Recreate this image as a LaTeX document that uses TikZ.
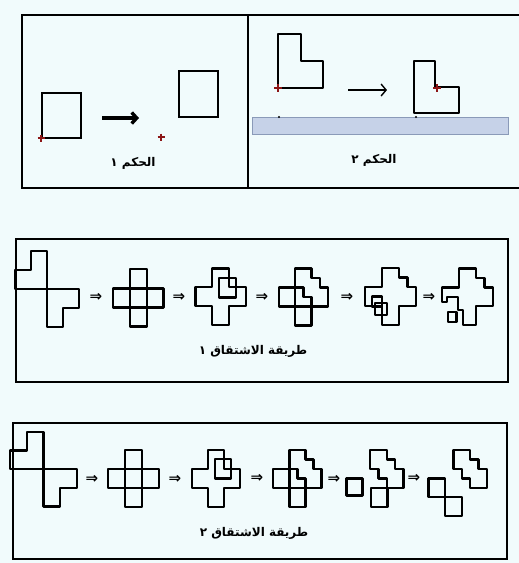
\documentclass[tikz,border=0pt]{standalone}
\usepackage{fontspec}
\usepackage{tikz}
\usetikzlibrary{arrows.meta}
\TeXXeTstate=1
\newfontfamily\arabicfont[Script=Arabic]{DejaVu Sans}
\newfontfamily\arrowfont{DejaVu Sans}
\definecolor{paper}{RGB}{241,251,252}
\definecolor{pinred}{RGB}{140,22,22}
\definecolor{barblue}{RGB}{198,210,232}
\definecolor{barline}{RGB}{138,154,184}
\definecolor{pin}{RGB}{0,150,160}

% pieces of the shapes, in cell units
\newcommand{\upperL}{(1,0) -- (2,0) -- (2,2) -- (0,2) -- (0,1) -- (1,1) -- cycle}
\newcommand{\lowerL}{(1,1) -- (3,1) -- (3,2) -- (2,2) -- (2,3) -- (1,3) -- cycle}
\newcommand{\crossline}{(1,0) -- (2,0) -- (2,1) -- (3,1) -- (3,2) -- (2,2) -- (2,3) -- (1,3) -- (1,2) -- (0,2) -- (0,1) -- (1,1) -- cycle}
\newcommand{\stairband}{(1,0) -- (2,0) -- (2,.5) -- (2.5,.5) -- (2.5,1) -- (3,1) -- (3,2) -- (2,2) -- (2,1.5) -- (1.5,1.5) -- (1.5,1) -- (1,1) -- cycle}
\newcommand{\staircross}{(1,0) -- (2,0) -- (2,.5) -- (2.5,.5) -- (2.5,1) -- (3,1) -- (3,2) -- (2,2) -- (2,3) -- (1,3) -- (1,2) -- (0,2) -- (0,1) -- (1,1) -- cycle}

\begin{document}
\begin{tikzpicture}[x=1pt,y=-1pt,
  frame/.style={line width=2pt},
  shp/.style={line width=2.3pt,line join=round},
  pinmark/.style={pinred,line width=1.6pt},
  implies/.style={font=\arrowfont\bfseries\fontsize{15}{15}\selectfont,inner sep=0pt},
  caption/.style={font=\arabicfont\bfseries\fontsize{12}{14}\selectfont,inner sep=1pt}]
\useasboundingbox (0,0) rectangle (519,563);
\fill[paper] (0,0) rectangle (519,563);

% the two rules
\draw[frame] (22,15) rectangle (523,188);
\draw[frame] (248,15) -- (248,188);

\draw[line width=2.8pt] (42,93) rectangle (81,138);
\draw[line width=2.8pt] (179,71) rectangle (218,117);
\coordinate (r1s) at (102,118);
\coordinate (r1e) at (139,118);
\draw[line width=3.4pt,-{Straight Barb[length=5pt,width=11pt]}] (r1s) -- (r1e);
\draw[pinmark] (41,138) +(-3.5,0) -- +(3.5,0) +(0,-3.5) -- +(0,3.5);
\draw[pinmark] (161,137) +(-3.5,0) -- +(3.5,0) +(0,-3.5) -- +(0,3.5);
\node[caption] (rule1) at (133,163) {\beginR الحكم ١\endR};

\draw[barline,fill=barblue,line width=.6pt] (252,117) rectangle (508,134);
\fill[pin] (279,117) circle (1.2);
\fill[pin] (416,117) circle (1.2);
\draw[line width=2.4pt,line join=round] (278,34) -- (301,34) -- (301,61) -- (323,61) -- (323,88) -- (278,88) -- cycle;
\draw[line width=2.4pt,line join=round] (414,61) -- (435,61) -- (435,87) -- (459,87) -- (459,113) -- (414,113) -- cycle;
\coordinate (r2s) at (348,90);
\coordinate (r2e) at (387,90);
\draw[line width=1.4pt,-{Straight Barb[length=5pt,width=12pt]}] (r2s) -- (r2e);
\draw[pinmark,line width=2.4pt] (278,88) +(-4,0) -- +(4,0) +(0,-4) -- +(0,4);
\draw[pinmark,line width=2.4pt] (437,88) +(-4,0) -- +(4,0) +(0,-4) -- +(0,4);
\node[caption] (rule2) at (374,160) {\beginR الحكم ٢\endR};

% first derivation
\draw[frame] (16,239) rectangle (508,382);
\begin{scope}[shift={(15,251)},x=16pt,y=-19pt]
  \draw[shp] \upperL;
  \draw[shp,shift={(1,1)}] \lowerL;
\end{scope}
\begin{scope}[shift={(113.3,269.3)},x=16.7pt,y=-19.1pt]
  \draw[shp] \upperL;
  \draw[shp] \lowerL;
\end{scope}
\begin{scope}[shift={(195.5,268.5)},x=16.8pt,y=-18.8pt]
  \draw[shp] \crossline;
  \draw[shp] (1.4,.5) rectangle (2.4,1.55);
\end{scope}
\begin{scope}[shift={(279,268.5)},x=16.3pt,y=-19pt]
  \draw[shp] \stairband;
  \draw[shp] (0,1) rectangle (1,2) (1,2) rectangle (2,3);
\end{scope}
\begin{scope}[shift={(365,268)},x=17pt,y=-18.9pt]
  \draw[shp] \staircross;
  \draw[shp] (.4,1.5) rectangle (1,2.07) (.6,1.84) rectangle (1.3,2.47);
\end{scope}
\begin{scope}[shift={(442,268.5)},x=17pt,y=-18.9pt]
  \draw[shp] (1,0) -- (2,0) -- (2,.5) -- (2.5,.5) -- (2.5,1) -- (3,1) -- (3,2) -- (2,2) -- (2,3)
    -- (1.25,3) -- (1.25,2.2) -- (.95,2.2) -- (.95,1.5) -- (.3,1.5) -- (.3,1.78) -- (0,1.78) -- (0,1) -- (1,1) -- cycle;
  \draw[shp] (.35,2.3) rectangle (.85,2.82);
\end{scope}
\node[implies] (d1a) at (96,297) {⇒};
\node[implies] (d1b) at (179,297) {⇒};
\node[implies] (d1c) at (262,297) {⇒};
\node[implies] (d1d) at (347,297) {⇒};
\node[implies] (d1e) at (429,297) {⇒};
\node[caption] (way1) at (253,351) {\beginR طريقة الاشتقاق ١\endR};

% second derivation
\draw[frame] (13,423) rectangle (507,559);
\begin{scope}[shift={(10,431.7)},x=16.7pt,y=-18.7pt]
  \draw[shp] \upperL;
  \draw[shp,shift={(1,1)}] \lowerL;
\end{scope}
\begin{scope}[shift={(108.3,450)},x=17pt,y=-18.9pt]
  \draw[shp] \upperL;
  \draw[shp] \lowerL;
\end{scope}
\begin{scope}[shift={(191.7,450)},x=16.1pt,y=-18.9pt]
  \draw[shp] \crossline;
  \draw[shp] (1.45,.47) rectangle (2.45,1.5);
\end{scope}
\begin{scope}[shift={(273.3,450)},x=16.1pt,y=-18.9pt]
  \draw[shp] \stairband;
  \draw[shp] (0,1) rectangle (1,2) (1,2) rectangle (2,3);
\end{scope}
\begin{scope}[shift={(353.3,450)},x=16.7pt,y=-18.9pt]
  \draw[shp] \stairband;
  \draw[shp] (-.4,1.5) rectangle (.55,2.4) (1.05,2) rectangle (2.05,3);
\end{scope}
\begin{scope}[shift={(436.7,450)},x=16.7pt,y=-18.9pt]
  \draw[shp] \stairband;
  \draw[shp] (-.5,1.5) rectangle (.5,2.47) (.5,2.47) rectangle (1.5,3.5);
\end{scope}
\node[implies] (d2a) at (92,479) {⇒};
\node[implies] (d2b) at (175,479) {⇒};
\node[implies] (d2c) at (257,478) {⇒};
\node[implies] (d2d) at (334,479) {⇒};
\node[implies] (d2e) at (414,478) {⇒};
\node[caption] (way2) at (254,533) {\beginR طريقة الاشتقاق ٢\endR};
\end{tikzpicture}
\end{document}
